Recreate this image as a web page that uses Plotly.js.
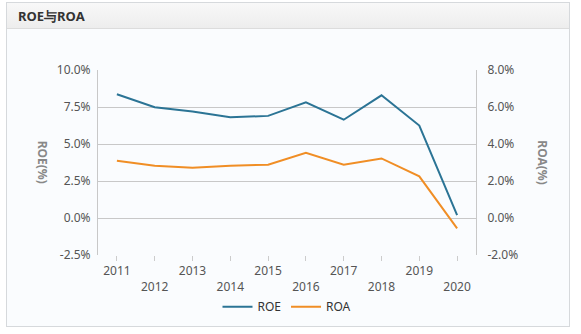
<!DOCTYPE html>
<html>
<head>
<meta charset="utf-8">
<script src="https://cdn.plot.ly/plotly-3.0.1.min.js"></script>
<style>
html,body{margin:0;padding:0;background:#ffffff;width:581px;height:334px;overflow:hidden;}
#frame{position:absolute;left:6px;top:2px;width:564px;height:325px;border:1px solid #d6d9dc;background:#fafcfe;box-sizing:border-box;}
#header{position:absolute;left:0;top:0;right:0;height:25px;background:linear-gradient(#f8f8f8,#ededed);border-bottom:1px solid #dcdcdc;}
#title{position:absolute;left:11px;top:4px;font-family:"Noto Sans",sans-serif;font-weight:bold;font-size:13px;color:#333;}
#chart{position:absolute;left:0;top:0;width:581px;height:334px;}
</style>
</head>
<body>
<div id="frame"><div id="header"><div id="title">ROE与ROA</div></div></div>
<div id="chart"></div>
<script>
var years = ["2011","2012","2013","2014","2015","2016","2017","2018","2019","2020"];
var roe = [8.36, 7.49, 7.2, 6.81, 6.9, 7.81, 6.64, 8.29, 6.25, 0.2];
var roa = [3.10, 2.83, 2.72, 2.83, 2.88, 3.53, 2.88, 3.22, 2.25, -0.56];
var roeTicks = [-2.5, 0, 2.5, 5, 7.5, 10];
var roaTicks = [-2, 0, 2, 4, 6, 8];
var tickText = years.map(function(y, i){ return i % 2 === 1 ? "<br>" + y : y; });
function pct(v){ return v.toFixed(1) + "%"; }

var font = "Noto Sans, sans-serif";
var traces = [
  {x: years, y: roe, name: "ROE", type: "scatter", mode: "lines", yaxis: "y",
   line: {color: "#2b7495", width: 2}},
  {x: years, y: roa, name: "ROA", type: "scatter", mode: "lines", yaxis: "y2",
   line: {color: "#f08e25", width: 2}}
];
var layout = {
  width: 581, height: 334,
  margin: {l: 98, r: 105, t: 70, b: 79, pad: 0, autoexpand: false},
  paper_bgcolor: "rgba(0,0,0,0)",
  plot_bgcolor: "rgba(0,0,0,0)",
  font: {family: font, size: 12, color: "#555"},
  showlegend: true,
  legend: {orientation: "h", x: 0.5, xanchor: "center", y: -0.28, yanchor: "middle",
           font: {family: font, size: 12, color: "#333"}, bgcolor: "rgba(0,0,0,0)"},
  hovermode: false,
  xaxis: {type: "category", range: [-0.5, 9.5], tickvals: years, ticktext: tickText,
          showgrid: false, zeroline: false, showline: false,
          ticks: "outside", ticklen: 5, tickcolor: "#ccc",
          tickfont: {family: font, size: 12, color: "#555"}},
  yaxis: {range: [-2.5, 10], tickvals: roeTicks, ticktext: roeTicks.map(pct),
          showgrid: true, gridcolor: "#c8c8c8", gridwidth: 1, zeroline: false,
          showline: true, linecolor: "#c8c8c8", ticks: "", ticklabelstandoff: 4,
          tickfont: {family: font, size: 12, color: "#555"}},
  yaxis2: {range: [-2, 8], tickvals: roaTicks, ticktext: roaTicks.map(pct),
           overlaying: "y", side: "right", showgrid: false, zeroline: false,
           showline: true, linecolor: "#c8c8c8", ticks: "", ticklabelstandoff: 8,
           tickfont: {family: font, size: 12, color: "#555"}},
  annotations: [
    {text: "ROE(%)", xref: "paper", yref: "paper", x: -0.146, y: 0.5, showarrow: false,
     textangle: 90, xanchor: "center", yanchor: "middle",
     font: {family: font, size: 12, color: "#888", weight: "bold"}},
    {text: "ROA(%)", xref: "paper", yref: "paper", x: 1.175, y: 0.5, showarrow: false,
     textangle: 90, xanchor: "center", yanchor: "middle",
     font: {family: font, size: 12, color: "#888", weight: "bold"}}
  ]
};
Plotly.newPlot("chart", traces, layout, {displayModeBar: false, staticPlot: true});
</script>
</body>
</html>
